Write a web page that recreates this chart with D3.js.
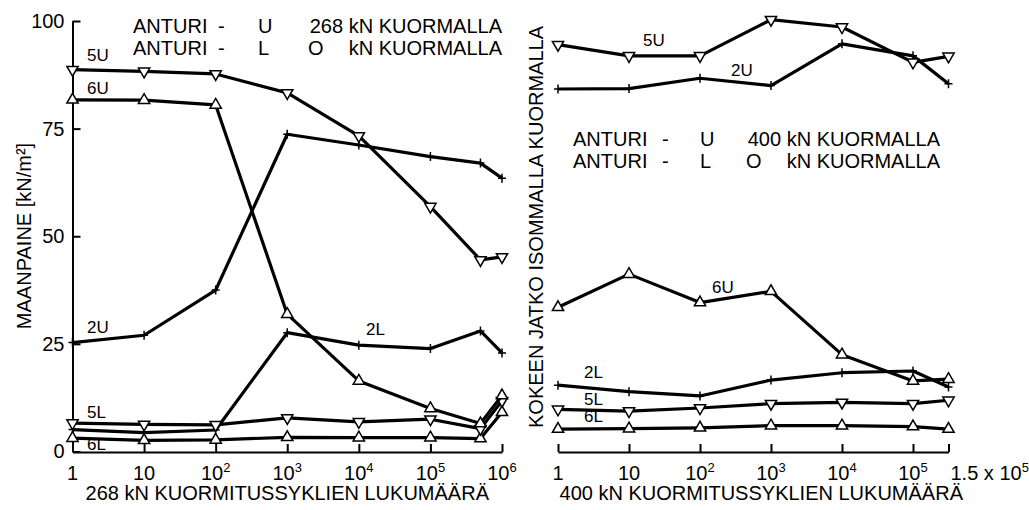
<!DOCTYPE html>
<html><head><meta charset="utf-8">
<script src="https://cdn.jsdelivr.net/npm/d3@7"></script>
<style>
html,body{margin:0;padding:0;background:#fff;}
svg{display:block;font-family:"Liberation Sans",Arial,sans-serif;}
</style></head>
<body>
<svg id="c" width="1029" height="510"></svg>
<script>
// ---------- DATA ----------
const leftCycles = [1, 10, 100, 1e3, 1e4, 1e5, 5e5, 1e6];
const left5U = [88.7, 88.3, 87.7, 83.3, 73.3, 56.9, 44.5, 45.2];
const left6U = [81.7, 81.6, 80.5, 31.9, 16.4, 10.0, 6.5, 13.0];
const left2U = [25.3, 27.0, 37.5, 73.7, 71.2, 68.5, 67.0, 63.5];
const left2L = [5.1, 4.4, 5.0, 27.6, 24.7, 23.9, 28.0, 22.9];
const left5L = [6.6, 6.3, 6.2, 7.8, 6.9, 7.5, 5.3, 11.8];
const left6L = [3.1, 2.6, 2.7, 3.3, 3.2, 3.2, 3.0, 9.1];

const rightCycles = [1, 10, 100, 1e3, 1e4, 1e5, 1.5e5];
const right5U = [94.5, 91.9, 91.9, 100.3, 98.6, 90.4, 91.8];
const right2U = [84.2, 84.3, 86.7, 85.0, 94.7, 91.9, 85.4];
const right6U = [33.5, 41.2, 34.6, 37.2, 22.5, 16.4, 16.8];
const right2L = [15.4, 13.9, 12.9, 16.6, 18.3, 18.7, 15.0];
const right5L = [9.8, 9.4, 10.1, 11.1, 11.4, 11.1, 11.9];
const right6L = [5.2, 5.3, 5.5, 6.0, 6.0, 5.8, 5.2];

const yTicks = [0, 25, 50, 75, 100];
const leftXTicks = [1, 10, 100, 1e3, 1e4, 1e5, 1e6];
const leftXTickLabels = [["1",""],["10",""],["10","2"],["10","3"],["10","4"],["10","5"],["10","6"]];
const rightXTickLabels = [["1",""],["10",""],["10","2"],["10","3"],["10","4"],["10","5"],["1.5 x 10","5"]];

const yTitle = "MAANPAINE [kN/m²]";
const rightYTitle = "KOKEEN JATKO ISOMMALLA KUORMALLA";
const leftXTitle = "268 kN KUORMITUSSYKLIEN LUKUMÄÄRÄ";
const rightXTitle = "400 kN KUORMITUSSYKLIEN LUKUMÄÄRÄ";

// ---------- LAYOUT ----------
const svg = d3.select("#c");
svg.append("rect").attr("width",1029).attr("height",510).attr("fill","#fff");

const y = d3.scaleLinear().domain([0,100]).range([451.5,21]);
const xL = d3.scaleLog().domain([1,1e6]).range([72.5,502]);
const r0 = 558, dec = 71;
const xR = d3.scaleLinear().domain(rightCycles)
  .range(rightCycles.map((d,i)=> i<6 ? r0+i*dec : r0+5.5*dec));

const base = y(0)+0.5;
const ink = "#000";

// left y axis
const gy = svg.append("g").attr("transform",`translate(${xL(1)},0)`)
  .call(d3.axisLeft(y).tickValues(yTicks).tickSize(-8).tickSizeOuter(0).tickPadding(8));
gy.select(".domain").attr("stroke",ink).attr("stroke-width",2);
gy.selectAll(".tick line").attr("stroke",ink).attr("stroke-width",2);
gy.selectAll(".tick text").attr("font-size",20).attr("fill",ink)
  .attr("font-family","Liberation Sans, Arial, sans-serif");

function xAxis(scale, ticks, labels, anchorLast){
  const g = svg.append("g").attr("transform",`translate(0,${base})`)
    .call(d3.axisBottom(scale).tickValues(ticks).tickSize(-8).tickSizeOuter(0).tickFormat(""));
  g.select(".domain").attr("stroke",ink).attr("stroke-width",2);
  g.selectAll(".tick line").attr("stroke",ink).attr("stroke-width",2);
  ticks.forEach((t,i)=>{
    const lab = labels[i];
    const last = anchorLast && i===ticks.length-1;
    const tx = svg.append("text")
      .attr("x", scale(t) + (last?2:0)).attr("y", 480)
      .attr("text-anchor", last ? "start" : "middle")
      .attr("font-size",20).attr("fill",ink);
    tx.append("tspan").text(lab[0]);
    if(lab[1]) tx.append("tspan").attr("dy",-8).attr("font-size",13).text(lab[1]);
  });
}
xAxis(xL, leftXTicks, leftXTickLabels, false);
xAxis(xR, rightCycles, rightXTickLabels, true);

// axis titles
svg.append("text").attr("x",(xL(1)+xL(1e6))/2).attr("y",500).attr("text-anchor","middle")
  .attr("font-size",20).attr("fill",ink).text(leftXTitle);
svg.append("text").attr("x",(xR(1)+xR(1.5e5))/2+8).attr("y",500).attr("text-anchor","middle")
  .attr("font-size",20).attr("fill",ink).text(rightXTitle);
svg.append("text").attr("transform",`translate(31,${236}) rotate(-90)`).attr("text-anchor","middle")
  .attr("font-size",20).attr("fill",ink).text(yTitle);
svg.append("text").attr("transform",`translate(543,${227}) rotate(-90)`).attr("text-anchor","middle")
  .attr("font-size",20).attr("fill",ink).text(rightYTitle);

// series
const tri = d3.symbol().type(d3.symbolTriangle).size(55);
function series(xs, vals, scale, marker){
  const pts = xs.map((c,i)=>[scale(c), y(vals[i])]);
  svg.append("path").attr("d", d3.line()(pts)).attr("fill","none")
    .attr("stroke",ink).attr("stroke-width",3.2).attr("stroke-linejoin","round");
  const g = svg.append("g");
  pts.forEach(p=>{
    if(marker==="plus"){
      g.append("path").attr("d",`M${p[0]},${p[1]-4.5}V${p[1]+4.5}M${p[0]-4},${p[1]}H${p[0]+4}`)
        .attr("stroke",ink).attr("stroke-width",1.5);
    } else {
      const rot = marker==="down" ? 180 : 0;
      g.append("path").attr("d",tri())
        .attr("transform",`translate(${p[0]},${p[1]}) rotate(${rot})`)
        .attr("fill","#fff").attr("stroke",ink).attr("stroke-width",1.5);
    }
  });
}
series(leftCycles, left2U, xL, "plus");
series(leftCycles, left2L, xL, "plus");
series(leftCycles, left6L, xL, "up");
series(leftCycles, left5L, xL, "down");
series(leftCycles, left6U, xL, "up");
series(leftCycles, left5U, xL, "down");

series(rightCycles, right2U, xR, "plus");
series(rightCycles, right2L, xR, "plus");
series(rightCycles, right6L, xR, "up");
series(rightCycles, right5L, xR, "down");
series(rightCycles, right6U, xR, "up");
series(rightCycles, right5U, xR, "down");

// series labels
const seriesLabels = [
  ["5U",87,61],["6U",87,94],["2U",87,333],["2L",366,335],["5L",87,418],["6L",87,450],
  ["5U",643,46],["2U",731,76],["6U",712,293],["2L",584,378],["5L",584,405],["6L",584,422]
];
seriesLabels.forEach(d=>{
  svg.append("text").attr("x",d[1]).attr("y",d[2]).attr("font-size",17).attr("fill",ink).text(d[0]);
});

// legends
function legend(x0, yb, rows){
  rows.forEach((r,i)=>{
    const yy = yb + i*22;
    svg.append("text").attr("x",x0).attr("y",yy).attr("font-size",20).attr("fill",ink).text("ANTURI");
    svg.append("text").attr("x",x0+r.dash).attr("y",yy).attr("font-size",20).attr("fill",ink).text("-");
    svg.append("text").attr("x",x0+r.let).attr("y",yy).attr("font-size",20).attr("fill",ink).text(r.l);
    if(r.o) svg.append("text").attr("x",x0+r.ox).attr("y",yy).attr("font-size",20).attr("fill",ink).text(r.o);
    svg.append("text").attr("x",r.end).attr("y",yy).attr("text-anchor","end").attr("font-size",20).attr("fill",ink).text(r.t);
  });
}
legend(133, 33, [
  {dash:85,let:125,l:"U",end:502,t:"268 kN KUORMALLA"},
  {dash:85,let:125,l:"L",o:"O",ox:175,end:502,t:"kN KUORMALLA"}
]);
legend(573, 146, [
  {dash:89,let:127,l:"U",end:940,t:"400 kN KUORMALLA"},
  {dash:89,let:127,l:"L",o:"O",ox:173,end:940,t:"kN KUORMALLA"}
]);
</script>
</body></html>
